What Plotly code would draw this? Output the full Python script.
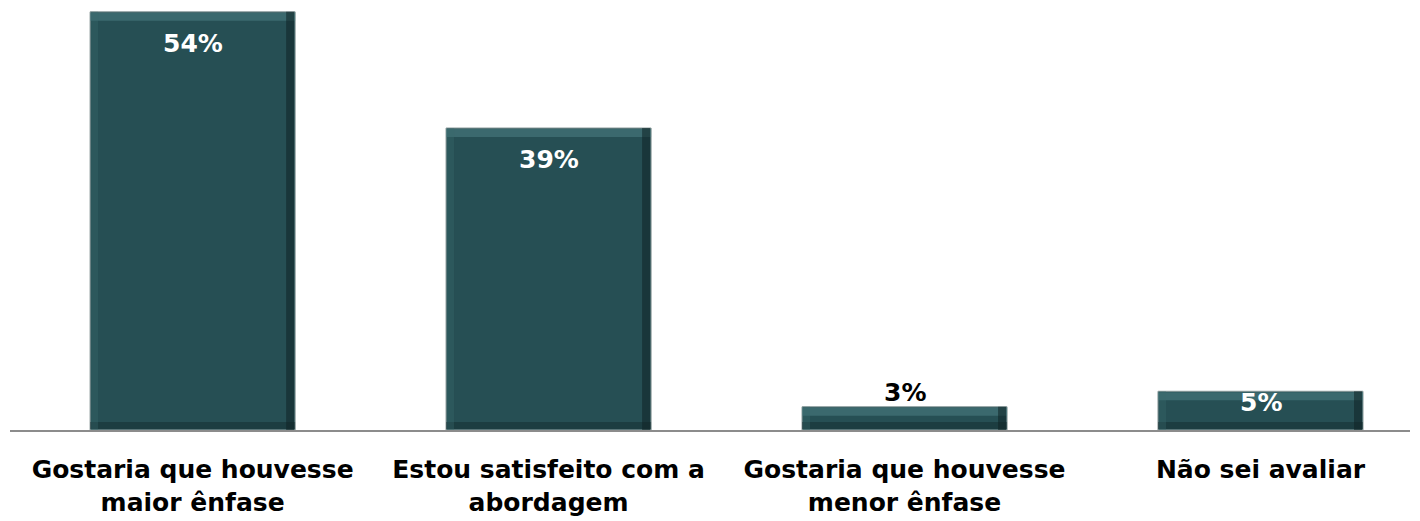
import plotly.graph_objects as go

categories = ["Gostaria que houvesse<br>maior ênfase", "Estou satisfeito com a<br>abordagem",
              "Gostaria que houvesse<br>menor ênfase", "Não sei avaliar"]
values = [54, 39, 3, 5]
labels = ["54%", "39%", "3%", "5%"]

BAR = "#264F54"
FONT = "DejaVu Sans"
FS = 25
W = 0.576
x = list(range(len(categories)))

fig = go.Figure()
fig.add_trace(go.Bar(
    x=x, y=values, width=W,
    marker=dict(color=BAR, line=dict(color="#8a9a9a", width=1)),
    hoverinfo="skip",
))

# bevel effect (derived from the bar data)
shapes = []
for xi, v in zip(x, values):
    xl, xr = xi - W / 2, xi + W / 2
    # top highlight
    shapes.append(dict(type="rect", xref="x", yref="y", x0=xl, x1=xr,
                       ysizemode="pixel", yanchor=v, y0=-9, y1=-1,
                       fillcolor="#4d8084", opacity=0.55, line=dict(width=0), layer="above"))
    # right shadow
    shapes.append(dict(type="rect", xref="x", yref="y", xsizemode="pixel", xanchor=xr, x0=-9, x1=-1,
                       y0=0, y1=v, fillcolor="#0f2325", opacity=0.55, line=dict(width=0), layer="above"))
    # bottom shadow
    shapes.append(dict(type="rect", xref="x", yref="y", x0=xl, x1=xr,
                       ysizemode="pixel", yanchor=0, y0=1, y1=8,
                       fillcolor="#0f2325", opacity=0.4, line=dict(width=0), layer="above"))
    # left light edge
    shapes.append(dict(type="rect", xref="x", yref="y", xsizemode="pixel", xanchor=xl, x0=1, x1=8,
                       y0=0, y1=v, fillcolor="#3a6a6e", opacity=0.35, line=dict(width=0), layer="above"))

annotations = []
for xi, v, t in zip(x, values, labels):
    if v >= 10:
        annotations.append(dict(x=xi, y=v, text="<b>%s</b>" % t, showarrow=False, yanchor="top", yshift=-15,
                                font=dict(color="white", size=FS, family=FONT)))
    elif v >= 4:
        annotations.append(dict(x=xi, y=v, text="<b>%s</b>" % t, showarrow=False, yanchor="top", yshift=5,
                                font=dict(color="white", size=FS, family=FONT)))
    else:
        annotations.append(dict(x=xi, y=v, text="<b>%s</b>" % t, showarrow=False, yanchor="bottom", yshift=-2,
                                font=dict(color="black", size=FS, family=FONT)))

fig.update_layout(
    width=1412, height=513,
    margin=dict(l=2, r=10, t=0, b=91, autoexpand=False),
    plot_bgcolor="white", paper_bgcolor="white",
    showlegend=False,
    shapes=shapes,
    annotations=annotations,
    font=dict(family=FONT, size=FS, color="black"),
    xaxis=dict(range=[-0.513, 3.42], tickvals=x, ticktext=["<b>%s</b>" % c for c in categories],
               showgrid=False, zeroline=False, showline=True, linecolor="#8c8c8c", linewidth=2,
               ticks="", ticklabelstandoff=16, automargin=False,
               tickfont=dict(family=FONT, size=FS, color="black")),
    yaxis=dict(range=[0, 54.5], visible=False, showgrid=False, zeroline=False, automargin=False),
)

fig.write_html("out.html")
